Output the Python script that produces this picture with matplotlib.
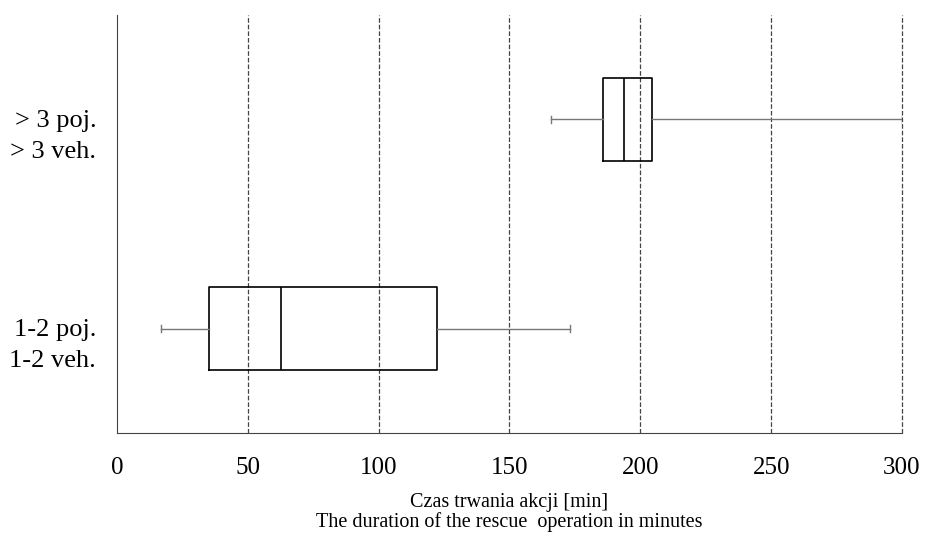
import matplotlib.pyplot as plt
import matplotlib.transforms as mtransforms

plt.rcParams['font.family'] = ['Liberation Serif', 'DejaVu Serif']

# dane (min)
kategorie = ['1-2 poj.\n1-2 veh.', '> 3 poj.\n> 3 veh.']
wasy_dol = [16.8, 165.8]
q1 = [35.2, 185.7]
mediany = [62.7, 193.7]
q3 = [122.3, 204.4]
wasy_gora = [173.0, 300.0]

staty = []
for i in range(len(kategorie)):
    staty.append({'whislo': wasy_dol[i], 'q1': q1[i], 'med': mediany[i],
                  'q3': q3[i], 'whishi': wasy_gora[i], 'fliers': []})

fig = plt.figure(figsize=(9.25, 5.41), dpi=100)
ax = fig.add_axes([0.1265, 0.1996, 0.8486, 0.7727])

ax.bxp(staty, positions=[1, 2], vert=False, widths=0.4, capwidths=0.03,
       boxprops=dict(color='black', lw=1.2),
       medianprops=dict(color='black', lw=1.2),
       whiskerprops=dict(color='#777777', lw=1.0),
       capprops=dict(color='#777777', lw=1.0),
       showfliers=False, zorder=3)

ax.set_xlim(0, 300)
ax.set_ylim(0.5, 2.5)
ax.set_xticks([0, 50, 100, 150, 200, 250, 300])
ax.set_yticks([1, 2])
ax.set_yticklabels(kategorie, linespacing=1.55)
ax.tick_params(axis='both', length=0, labelsize=18)
ax.tick_params(axis='x', pad=17)
ax.tick_params(axis='y', pad=15, labelsize=19)

# etykiety osi y lekko w dol
przesun = mtransforms.ScaledTranslation(0, -10 / 100, fig.dpi_scale_trans)
for lab in ax.get_yticklabels():
    lab.set_transform(lab.get_transform() + przesun)

for x in [50, 100, 150, 200, 250, 300]:
    ax.axvline(x, color='#444444', ls='--', lw=0.9, zorder=1, clip_on=False)

ax.spines['top'].set_visible(False)
ax.spines['right'].set_visible(False)
ax.spines['left'].set_color('#444444')
ax.spines['bottom'].set_color('#444444')

ax.set_xlabel('Czas trwania akcji [min]\nThe duration of the rescue  operation in minutes',
              fontsize=14.5, labelpad=10, linespacing=1.05)

fig.savefig('out.png', dpi=100)
